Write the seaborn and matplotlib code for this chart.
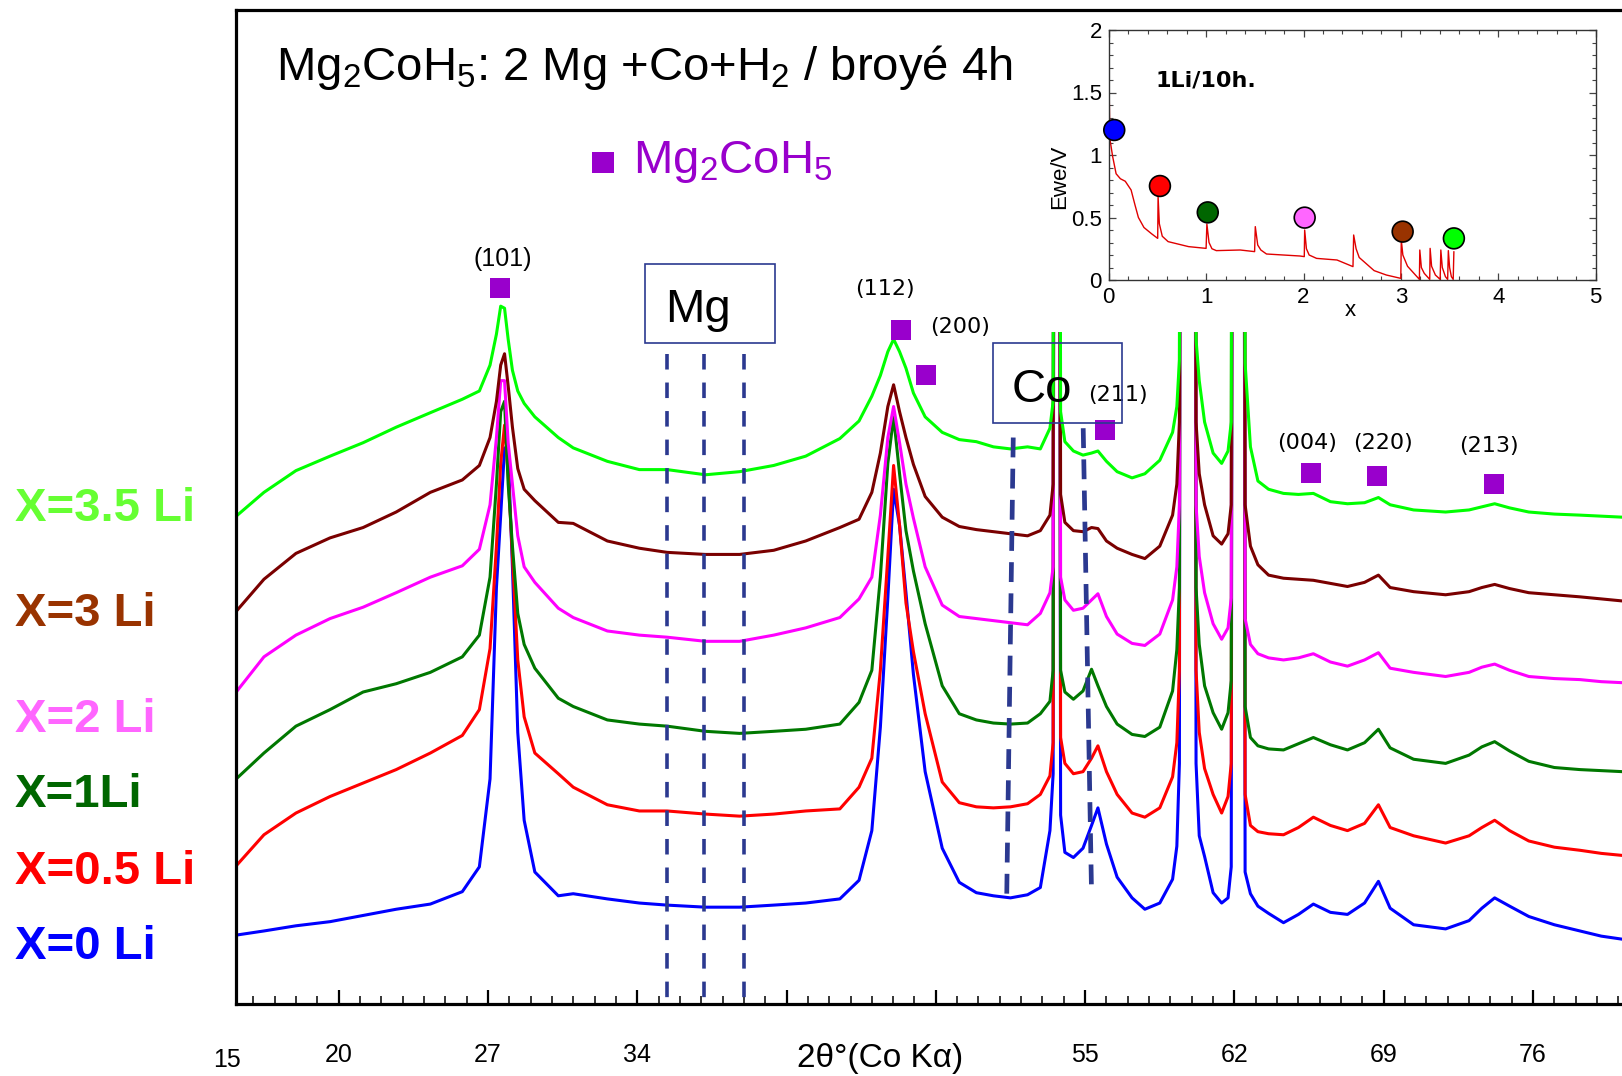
import matplotlib
matplotlib.use("Agg")
import matplotlib.pyplot as plt
import numpy as np
import pandas as pd
import seaborn as sns
from matplotlib.patches import Rectangle, Polygon
from matplotlib.transforms import Affine2D
from matplotlib.ticker import MultipleLocator, FixedLocator

# ---------------- data ----------------
two_theta = [15.2, 16.5, 18.0, 19.6, 21.15, 22.7, 24.3, 25.8, 26.6, 27.1, 27.4, 27.6, 27.78, 27.95, 28.15, 28.4, 28.7, 29.2, 30.3, 31.0,
             32.6, 34.1, 35.4, 37.2, 38.8, 40.4, 41.9, 43.5, 44.4,
             45.0, 45.4, 45.75, 46.02, 46.3, 46.6, 46.95, 47.5, 48.3, 49.1, 49.9, 50.7, 51.5, 52.3, 52.9,
             53.35, 53.5, 53.58, 53.74, 53.85, 54.05, 54.45, 54.9, 55.3, 55.6, 56.0, 56.5, 57.2, 57.8, 58.5, 59.1, 59.3, 59.42, 59.5,
             60.1, 60.2, 60.35, 60.6, 61.0, 61.4, 61.7, 61.85, 61.95, 62.4, 62.5, 62.75, 63.1, 63.6,
             64.3, 65.0, 65.7, 66.5, 67.3, 68.1, 68.75, 69.3, 70.4, 71.9, 73.0, 73.6, 74.2, 74.9, 75.8, 77.0, 78.2, 79.2, 80.2]

int_x35 = [469, 492, 513, 527, 540, 555, 569, 582, 590, 615, 645, 672, 670, 640, 610, 590, 578, 565, 545, 535,
           522, 514, 514, 509, 512, 518, 527, 544, 561,
           585, 605, 628, 640, 628, 612, 588, 565, 550, 543, 541, 536, 534, 536, 534,
           554, 580, 1800, 1800, 570, 541, 532, 528, 530, 532, 522, 512, 506, 510, 523, 550, 575, 620, 1800,
           1800, 640, 600, 560, 530, 520, 532, 560, 1800, 1800, 617, 536, 503, 495,
           491, 490, 491, 483, 481, 482, 487, 480, 475, 473, 475, 478, 481, 477, 473, 471, 470, 469, 468]
int_x3 = [377, 408, 433, 448, 458, 473, 492, 504, 518, 545, 580, 615, 626, 595, 555, 515, 495, 484, 463, 462,
          445, 438, 434, 432, 432, 436, 445, 458, 466,
          492, 530, 575, 596, 570, 545, 519, 488, 468, 459, 456, 454, 452, 450, 455,
          470, 500, 1800, 1800, 490, 463, 455, 454, 458, 457, 445, 438, 432, 428, 440, 470, 500, 560, 1800,
          1800, 560, 510, 480, 450, 442, 452, 480, 1800, 1800, 480, 440, 422, 412,
          409, 408, 407, 404, 401, 405, 412, 400, 396, 393, 396, 400, 403, 399, 395, 393, 391, 389, 387]
int_x2 = [299, 333, 354, 370, 381, 395, 410, 421, 437, 480, 545, 600, 600, 540, 500, 450, 420, 405, 380, 371,
          358, 354, 352, 348, 348, 354, 361, 371, 389,
          410, 470, 545, 575, 540, 500, 467, 420, 383, 372, 370, 368, 366, 364, 375,
          395, 420, 1800, 1800, 410, 388, 378, 380, 388, 394, 372, 355, 346, 344, 355, 388, 420, 480, 1800,
          1800, 480, 430, 395, 365, 350, 361, 390, 1800, 1800, 370, 345, 336, 332,
          330, 332, 336, 328, 324, 330, 337, 322, 318, 314, 318, 323, 326, 320, 314, 312, 311, 309, 308]
int_x1 = [215, 240, 266, 282, 299, 307, 318, 333, 354, 410, 500, 570, 580, 500, 440, 375, 345, 322, 293, 285,
          272, 268, 266, 261, 259, 261, 263, 268, 289,
          320, 410, 520, 565, 510, 455, 416, 365, 305, 278, 272, 269, 268, 269, 278,
          290, 320, 1800, 1800, 320, 299, 292, 300, 321, 305, 285, 268, 258, 256, 265, 300, 340, 400, 1800,
          1800, 400, 345, 305, 279, 263, 279, 310, 1800, 1800, 285, 255, 247, 244,
          243, 249, 255, 248, 243, 250, 263, 245, 234, 230, 238, 246, 251, 242, 232, 226, 224, 223, 222]
int_x05 = [131, 161, 182, 198, 211, 224, 240, 257, 282, 341, 440, 520, 557, 510, 430, 330, 275, 240, 220, 207,
           190, 184, 184, 181, 179, 181, 184, 186, 207,
           235, 320, 430, 518, 460, 385, 338, 278, 212, 192, 188, 187, 188, 191, 200,
           218, 250, 1800, 1800, 255, 230, 220, 222, 235, 247, 222, 200, 182, 178, 187, 217, 250, 320, 1800,
           1800, 320, 260, 225, 200, 182, 198, 230, 1800, 1800, 200, 170, 164, 162,
           161, 168, 178, 170, 165, 172, 190, 168, 160, 153, 160, 168, 175, 165, 155, 149, 146, 143, 141]
int_x0 = [64, 68, 73, 77, 83, 89, 94, 106, 130, 215, 400, 470, 535, 530, 420, 260, 175, 125, 102, 104,
          99, 95, 93, 91, 91, 93, 95, 99, 117,
          165, 265, 390, 495, 460, 395, 316, 222, 148, 115, 105, 102, 100, 103, 110,
          165, 220, 1800, 1800, 180, 144, 139, 148, 170, 187, 152, 120, 100, 89, 95, 118, 150, 230, 1800,
          1800, 230, 160, 140, 105, 95, 100, 130, 1800, 1800, 125, 104, 92, 85,
          76, 84, 94, 86, 84, 95, 116, 90, 74, 70, 78, 90, 100, 92, 82, 74, 68, 63, 60]

sample_labels = ["X=3.5 Li", "X=3 Li", "X=2 Li", "X=1Li", "X=0.5 Li", "X=0 Li"]
sample_series = [int_x35, int_x3, int_x2, int_x1, int_x05, int_x0]
trace_colors = ["#00FF00", "#7A0000", "#FF00FF", "#007800", "#FF0000", "#0000FF"]
label_colors = ["#66FF33", "#993300", "#FF66FF", "#006600", "#FF0000", "#0000FF"]
label_baselines_px = [521, 626, 732, 807, 884, 959]

hkl_labels = ["(101)", "(112)", "(200)", "(211)", "(004)", "(220)", "(213)"]
hkl_pos = [27.59, 46.36, 47.52, 55.91, 65.61, 68.67, 74.15]
hkl_mark = [690, 649, 605, 552, 511, 508, 500]
hkl_text_px = [(503, 259), (885, 289), (960, 327), (1118, 395), (1307, 443), (1383, 443), (1489, 446)]

mg_lines = [35.38, 37.14, 39.02]
co_top_x = [51.63, 54.91]
co_top_y = [545, 554]
co_bot_x = [51.32, 55.30]
co_bot_y = [96, 105]

tick_vals = [20, 27, 34, 41, 48, 55, 62, 69, 76]
tick_text = ["20", "27", "34", "", "", "55", "62", "69", "76"]

# inset: galvanostatic curve
inset_x = [0.0, 0.006, 0.012, 0.04, 0.076, 0.12, 0.17, 0.23, 0.27, 0.305, 0.362, 0.44, 0.503, 0.507, 0.52, 0.55,
           0.61, 0.82, 1.0, 1.008, 1.03, 1.06, 1.105, 1.35, 1.498, 1.505, 1.53, 1.562, 1.62, 1.963, 2.008,
           2.012, 2.03, 2.058, 2.134, 2.344, 2.508, 2.515, 2.54, 2.572, 2.725, 2.85, 2.999, 3.004, 3.02,
           3.068, 3.19, 3.194, 3.21, 3.24, 3.296, 3.3, 3.315, 3.354, 3.403, 3.41, 3.425, 3.457, 3.48,
           3.487, 3.5, 3.518, 3.537, 3.544]
inset_e = [2.0, 1.45, 1.13, 0.99, 0.85, 0.81, 0.79, 0.72, 0.6, 0.5, 0.42, 0.37, 0.333, 0.667, 0.45, 0.35,
           0.307, 0.267, 0.253, 0.448, 0.3, 0.25, 0.235, 0.24, 0.227, 0.427, 0.28, 0.24, 0.208, 0.192, 0.187,
           0.4, 0.25, 0.2, 0.173, 0.16, 0.107, 0.36, 0.25, 0.18, 0.075, 0.04, 0.013, 0.32, 0.2,
           0.11, 0.005, 0.24, 0.1, 0.053, 0.005, 0.253, 0.11, 0.04, 0.005, 0.24, 0.1, 0.027, 0.005,
           0.235, 0.1, 0.027, 0.005, 0.227]
inset_mark_x = [0.057, 0.526, 1.017, 2.012, 3.018, 3.544]
inset_mark_y = [1.2, 0.752, 0.541, 0.499, 0.387, 0.333]
inset_mark_names = ["0", "0.5", "1", "2", "3", "3.5"]
inset_mark_colors = ["#0000FF", "#FF0000", "#006600", "#FF66FF", "#993300", "#00FF00"]

# ---------------- style ----------------
sns.set_style("white")
plt.rcParams["font.family"] = ["Liberation Sans", "DejaVu Sans"]
plt.rcParams["mathtext.fontset"] = "custom"
plt.rcParams["mathtext.rm"] = "Liberation Sans"
plt.rcParams["mathtext.it"] = "Liberation Sans:italic"
plt.rcParams["mathtext.bf"] = "Liberation Sans:bold"
plt.rcParams["text.color"] = "black"
plt.rcParams["xtick.color"] = "black"
plt.rcParams["ytick.color"] = "black"
plt.rcParams["xtick.labelcolor"] = "black"
plt.rcParams["ytick.labelcolor"] = "black"

W, H = 1622, 1076
fig = plt.figure(figsize=(W / 100, H / 100), dpi=100)
fig.patch.set_facecolor("white")
px = Affine2D().scale(1 / W, -1 / H).translate(0, 1) + fig.transFigure

ax_l, ax_t, ax_b = 236, 10, 1004
ax = fig.add_axes([ax_l / W, 1 - ax_b / H, (W - ax_l) / W, (ax_b - ax_t) / H])
ax.set_facecolor("white")

frames = []
for lab, vals in zip(sample_labels, sample_series):
    frames.append(pd.DataFrame({"two_theta": two_theta, "intensity": vals, "sample": lab}))
df = pd.concat(frames, ignore_index=True)
draw_order = sample_labels[::-1]
sns.lineplot(data=df, x="two_theta", y="intensity", hue="sample", hue_order=draw_order,
             palette=dict(zip(sample_labels, trace_colors)), estimator=None, sort=False,
             legend=False, linewidth=2.2, ax=ax)

clip_poly = Polygon([(10, -50), (90, -50), (90, 647), (50, 647), (50, 760), (10, 760)],
                    closed=True, transform=ax.transData, facecolor="none", edgecolor="none")
for ln in ax.lines:
    ln.set_clip_path(clip_poly)

ax.set_xlim(15.19, 80.17)
ax.set_ylim(-2.6, 958.3)

# Mg reference lines
navy = "#2B3990"
for xv in mg_lines:
    ax.plot([xv, xv], [626, -2.6], color=navy, lw=2.6, dashes=(4.3, 3.6), zorder=4, clip_on=False)
# Co reference lines (slightly slanted)
for xt, yt, xb, yb in zip(co_top_x, co_top_y, co_bot_x, co_bot_y):
    ax.plot([xt, xb], [yt, yb], color=navy, lw=3.4, dashes=(4.2, 2.4), zorder=4)

# Mg2CoH5 markers
sns.scatterplot(x=hkl_pos, y=hkl_mark, marker="s", s=228, color="#9900CC", linewidth=0,
                ax=ax, zorder=5, legend=False)
for lab, (tx, ty) in zip(hkl_labels, hkl_text_px):
    fam = ["Liberation Sans"] if lab == "(101)" else ["DejaVu Sans"]
    fs = 18 if lab == "(101)" else 16
    fig.text(tx, ty, lab, transform=px, ha="center", va="center", fontsize=fs, family=fam)

# axes styling
for s in ["left", "bottom", "top"]:
    ax.spines[s].set_visible(True)
    ax.spines[s].set_color("black")
    ax.spines[s].set_linewidth(2.3)
ax.spines["right"].set_visible(False)
ax.set_yticks([])
ax.xaxis.set_major_locator(FixedLocator(tick_vals))
ax.set_xticklabels(tick_text)
ax.xaxis.set_minor_locator(MultipleLocator(1))
ax.tick_params(axis="x", which="major", direction="in", length=10, width=1.6, labelsize=18,
               pad=28, bottom=True, top=False)
ax.tick_params(axis="x", which="minor", direction="in", length=6, width=1.1, bottom=True, top=False)
ax.set_xlabel("")
ax.set_ylabel("")
fig.text(227, 1060, "15", transform=px, ha="center", va="center", fontsize=18)
fig.text(880, 1058, "2θ°(Co Kα)", transform=px, ha="center", va="center", fontsize=24)

# title and legend
fig.text(276, 80, "Mg$_2$CoH$_5$: 2 Mg +Co+H$_2$ / broyé 4h", transform=px, ha="left",
         va="baseline", fontsize=34)
fig.add_artist(Rectangle((592, 151.7), 21.7, 21, transform=px, facecolor="#9900CC", edgecolor="none"))
fig.text(633, 173, "Mg$_2$CoH$_5$", transform=px, ha="left", va="baseline", fontsize=34, color="#9900CC")

# phase boxes
fig.add_artist(Rectangle((644.6, 264), 130.4, 79.3, transform=px, facecolor="none",
                         edgecolor=navy, linewidth=1.2))
fig.text(697.5, 321.7, "Mg", transform=px, ha="center", va="baseline", fontsize=34)
fig.add_artist(Rectangle((993, 343.3), 129.1, 79.4, transform=px, facecolor="none",
                         edgecolor=navy, linewidth=1.2, zorder=6))
fig.text(1041.8, 401.7, "Co", transform=px, ha="center", va="baseline", fontsize=34, zorder=7)

# sample labels on the left
for lab, col, yb in zip(sample_labels, label_colors, label_baselines_px):
    fig.text(15, yb, lab, transform=px, ha="left", va="baseline", fontsize=34,
             fontweight="bold", color=col)

# ---------------- inset ----------------
axi = fig.add_axes([1108.7 / W, 1 - 280 / H, 487 / W, 250 / H])
axi.set_facecolor("white")
sns.lineplot(x=inset_x, y=inset_e, color="#E00000", linewidth=1.0, sort=False, estimator=None, ax=axi)
sns.scatterplot(x=inset_mark_x, y=inset_mark_y, hue=inset_mark_names,
                palette=dict(zip(inset_mark_names, inset_mark_colors)), s=225,
                edgecolor="black", linewidth=1.2, legend=False, ax=axi, zorder=5, clip_on=False)
axi.set_xlim(0, 5)
axi.set_ylim(0, 2)
axi.set_xticks([0, 1, 2, 3, 4, 5])
axi.set_xticklabels(["0", "1", "2", "3", "4", "5"])
axi.set_yticks([0, 0.5, 1, 1.5, 2])
axi.set_yticklabels(["0", "0.5", "1", "1.5", "2"])
axi.xaxis.set_minor_locator(MultipleLocator(0.2))
axi.yaxis.set_minor_locator(MultipleLocator(0.1))
axi.tick_params(which="major", direction="in", length=5, width=0.9, color="#444444",
                labelsize=16, top=True, right=True, bottom=True, left=True, pad=5)
axi.tick_params(which="minor", direction="in", length=3, width=0.8, color="#444444",
                top=True, right=True, bottom=True, left=True)
for s in axi.spines.values():
    s.set_visible(True)
    s.set_color("#333333")
    s.set_linewidth(1.0)
axi.set_xlabel("")
axi.set_ylabel("")
fig.text(1060, 177, "Ewe/V", transform=px, ha="center", va="center", rotation=90, fontsize=16)
fig.text(1350, 311, "x", transform=px, ha="center", va="center", fontsize=16)
fig.text(1155, 87, "1Li/10h.", transform=px, ha="left", va="baseline", fontsize=16,
         fontweight="bold", family=["DejaVu Sans"])

fig.savefig("out.png", dpi=100, facecolor="white")
